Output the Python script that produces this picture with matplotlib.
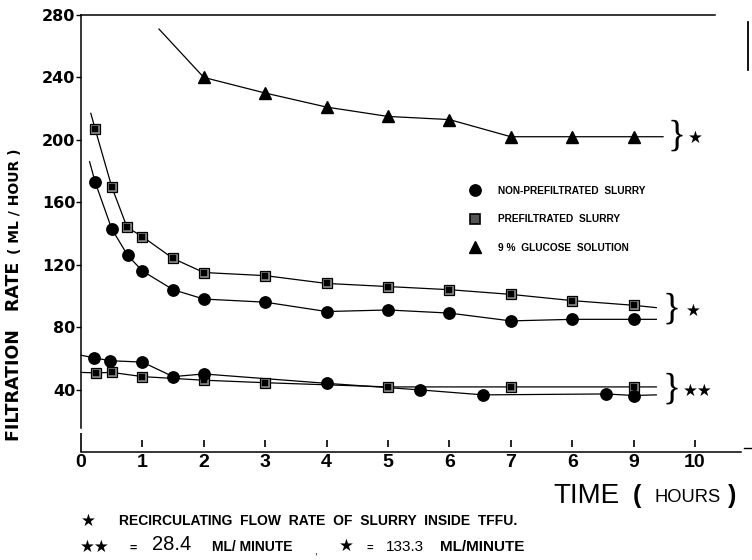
import matplotlib
matplotlib.use("Agg")
import matplotlib.pyplot as plt
from matplotlib.lines import Line2D

# ---- data -------------------------------------------------------------
# Non-prefiltrated slurry, recirculation 133.3 mL/min
np_hi_t = [0.23, 0.5, 0.76, 1.0, 1.5, 2, 3, 4, 5, 6, 7, 8, 9]
np_hi_v = [173, 143, 126, 116, 104, 98, 96, 90, 91, 89, 84, 85, 85]
np_hi_lead = (0.14, 186)
np_hi_tail = (9.37, 85)

# Prefiltrated slurry, recirculation 133.3 mL/min
pf_hi_t = [0.23, 0.5, 0.75, 1.0, 1.5, 2, 3, 4, 5, 6, 7, 8, 9]
pf_hi_v = [207, 170, 144, 138, 124, 115, 113, 108, 106, 104, 101, 97, 94]
pf_hi_lead = (0.16, 217)
pf_hi_tail = (9.37, 92.5)

# 9 % glucose solution, recirculation 133.3 mL/min
gl_t = [2, 3, 4, 5, 6, 7, 8, 9]
gl_v = [240, 230, 221, 215, 213, 202, 202, 202]
gl_lead = (1.27, 271)
gl_tail = (9.48, 202)

# Non-prefiltrated slurry, recirculation 28.4 mL/min
np_lo_t = [0.21, 0.47, 1.0, 1.5, 2, 4, 5.52, 6.55, 8.55, 9]
np_lo_v = [60.4, 58.5, 57.6, 48.3, 50, 44, 39.8, 36.6, 37.2, 36.2]
np_lo_lead = (0.0, 62)
np_lo_tail = (9.37, 36.6)

# Prefiltrated slurry, recirculation 28.4 mL/min
pf_lo_t = [0.24, 0.5, 1.0, 2, 3, 5, 7, 9]
pf_lo_v = [50.7, 51, 48.3, 46, 44.4, 41.7, 41.7, 41.7]
pf_lo_lead = (0.0, 51)
pf_lo_tail = (9.37, 41.7)

x_ticks = [0, 1, 2, 3, 4, 5, 6, 7, 8, 9, 10]
x_tick_labels = ["0", "1", "2", "3", "4", "5", "6", "7", "6", "9", "10"]
y_ticks = [40, 80, 120, 160, 200, 240, 280]
y_tick_labels = ["40", "80", "120", "160", "200", "240", "280"]

legend_labels = ["NON-PREFILTRATED  SLURRY", "PREFILTRATED  SLURRY",
                 "9 %  GLUCOSE  SOLUTION"]

NARROW = ["Liberation Sans Narrow", "Liberation Sans", "DejaVu Sans"]
SANS = ["Liberation Sans", "DejaVu Sans"]

# ---- figure -----------------------------------------------------------
W_PX, H_PX = 752, 560
fig = plt.figure(figsize=(W_PX / 100, H_PX / 100), dpi=100)
ax = fig.add_axes([81 / W_PX, (H_PX - 452) / H_PX, (W_PX - 81) / W_PX, (452 - 15) / H_PX])
ax.set_xlim(0, (W_PX - 81) / 61.4)
ax.set_ylim(0, 280)


def fpos(x, y):
    return x / W_PX, 1 - y / H_PX


def series_line(t, v, lead, tail):
    xs = [lead[0]] + list(t) + [tail[0]]
    ys = [lead[1]] + list(v) + [tail[1]]
    ax.plot(xs, ys, color="black", lw=0.9, zorder=2, clip_on=False)


def circles(t, v):
    ax.plot(t, v, ls="none", marker="o", ms=8.2, mfc="black", mec="black",
            zorder=4, clip_on=False)


def squares(t, v):
    ax.plot(t, v, ls="none", marker="s", ms=7.2, mfc="#8c8c8c", mec="black",
            mew=0.9, zorder=4, clip_on=False)
    ax.plot(t, v, ls="none", marker="s", ms=4.2, mfc="black", mec="black",
            mew=0.3, zorder=5, clip_on=False)


def triangles(t, v):
    ax.plot(t, v, ls="none", marker="^", ms=8.5, mfc="black", mec="black",
            zorder=4, clip_on=False)


series_line(gl_t, gl_v, gl_lead, gl_tail)
series_line(np_hi_t, np_hi_v, np_hi_lead, np_hi_tail)
series_line(pf_hi_t, pf_hi_v, pf_hi_lead, pf_hi_tail)
series_line(np_lo_t, np_lo_v, np_lo_lead, np_lo_tail)
series_line(pf_lo_t, pf_lo_v, pf_lo_lead, pf_lo_tail)

triangles(gl_t, gl_v)
squares(pf_hi_t, pf_hi_v)
circles(np_hi_t, np_hi_v)
squares(pf_lo_t, pf_lo_v)
circles(np_lo_t, np_lo_v)

# ---- axes frame -------------------------------------------------------
ax.spines["right"].set_visible(False)
ax.spines["left"].set_bounds(15.4, 280)
ax.spines["bottom"].set_bounds(0, 10.75)
ax.spines["top"].set_bounds(0, 10.33)
for s in ("left", "bottom", "top"):
    ax.spines[s].set_linewidth(1.1)

# short vertical stroke at the upper right corner
ax.plot([10.86, 10.86], [244.8, 275.5], color="black", lw=1.3, clip_on=False)
ax.plot([10.8, 10.93], [2.5, 2.5], color="black", lw=1.0, clip_on=False)

ax.set_yticks(y_ticks)
ax.set_yticklabels(y_tick_labels)
ax.tick_params(axis="y", direction="out", length=3.5, width=1, pad=0.5,
               labelsize=11.5)
for lab in ax.get_yticklabels():
    lab.set_fontweight("bold")
    lab.set_family("DejaVu Sans")

ax.set_xticks(x_ticks)
ax.set_xticklabels(x_tick_labels)
ax.tick_params(axis="x", length=0, pad=1.5, labelsize=14)
for lab in ax.get_xticklabels():
    lab.set_fontweight("bold")
    lab.set_family(NARROW)

# detached tick strokes above the time axis
ax.vlines(x_ticks[1:], 3.2, 7.8, color="black", lw=1.2, clip_on=False)
ax.vlines([x_ticks[0]], 0, 12, color="black", lw=1.2, clip_on=False)

# ---- legend -----------------------------------------------------------
handles = [
    Line2D([], [], ls="none", marker="o", ms=8.2, mfc="black", mec="black"),
    Line2D([], [], ls="none", marker="s", ms=6.5, mfc="#555555", mec="black", mew=1.2),
    Line2D([], [], ls="none", marker="^", ms=8.5, mfc="black", mec="black"),
]
leg = ax.legend(handles, legend_labels, loc="upper left",
                bbox_to_anchor=fpos(470, 186), bbox_transform=fig.transFigure,
                frameon=False, borderpad=0, borderaxespad=0, handlelength=1.0,
                handletextpad=1.75, labelspacing=1.82,
                prop={"family": NARROW, "weight": "bold", "size": 7.3})

# ---- group braces and stars -------------------------------------------
brace_kw = dict(family="Liberation Serif", fontsize=27, ha="center", va="center")
star_kw = dict(family="DejaVu Sans", fontsize=12, ha="center", va="center")
fig.text(*fpos(677, 136), "}", **brace_kw)
fig.text(*fpos(695, 138), "\u2605", **star_kw)
fig.text(*fpos(672, 309), "}", **brace_kw)
fig.text(*fpos(693, 311), "\u2605", **star_kw)
fig.text(*fpos(672, 389), "}", **brace_kw)
fig.text(*fpos(698, 391), "\u2605\u2605", **star_kw)

# ---- axis titles ------------------------------------------------------
fig.text(*fpos(14, 441), "FILTRATION   RATE", rotation=90, ha="center", va="bottom",
         family="DejaVu Sans", fontweight="heavy", fontsize=12.5)
fig.text(*fpos(15, 254), "( ML / HOUR )", rotation=90, ha="center", va="bottom",
         family="DejaVu Sans", fontweight="bold", fontsize=10)

fig.text(*fpos(553, 496), "TIME", ha="left", va="center", family=NARROW,
         fontsize=20)
fig.text(*fpos(633, 496), "(", ha="left", va="center", family=SANS,
         fontweight="bold", fontsize=18)
fig.text(*fpos(654, 497), "HOURS", ha="left", va="center", family=NARROW,
         fontsize=13.2)
fig.text(*fpos(728, 496), ")", ha="left", va="center", family=SANS,
         fontweight="bold", fontsize=18)

# ---- footnotes --------------------------------------------------------
fig.text(*fpos(88, 521), "\u2605", **star_kw)
fig.text(*fpos(119, 521), "RECIRCULATING  FLOW  RATE  OF  SLURRY  INSIDE  TFFU.",
         ha="left", va="center", family=SANS, fontweight="bold", fontsize=10)

fig.text(*fpos(95, 547), "\u2605\u2605", **star_kw)
fig.text(*fpos(133, 549), "=", ha="center", va="center", family=SANS,
         fontweight="bold", fontsize=9)
fig.text(*fpos(152, 545), "28.4", ha="left", va="center", family=NARROW,
         fontsize=14.5)
fig.text(*fpos(212, 547), "ML/ MINUTE", ha="left", va="center", family=NARROW,
         fontweight="bold", fontsize=10)
fig.text(*fpos(316, 551), ",", ha="center", va="center", family=SANS, fontsize=8)
fig.text(*fpos(346, 546), "\u2605", **star_kw)
fig.text(*fpos(370, 548), "=", ha="center", va="center", family=SANS,
         fontweight="bold", fontsize=8)
fig.text(*fpos(386, 547), "133.3", ha="left", va="center", family=NARROW,
         fontsize=11)
fig.text(*fpos(440, 547), "ML/MINUTE", ha="left", va="center", family=SANS,
         fontweight="bold", fontsize=11)

fig.savefig("out.png", dpi=100)
